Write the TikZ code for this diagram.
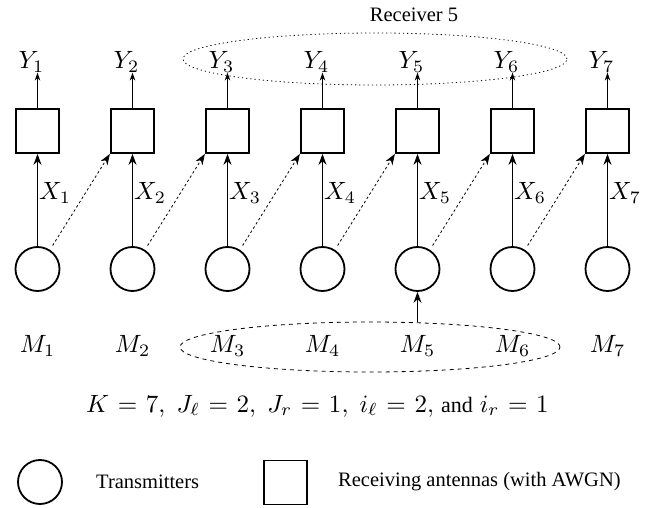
\documentclass[tikz,border=0pt]{standalone}
\usepackage{graphicx}
\usepackage[no-math]{fontspec}
\setmainfont{Liberation Serif}
\usetikzlibrary{arrows.meta,shapes.geometric,calc}
\newcommand\biglab[1]{\scalebox{2.5}{#1}}

\begin{document}
\begin{tikzpicture}[x=1pt,y=-1pt,
  rxbox/.style={draw,line width=1.8pt,minimum width=43.5pt,minimum height=44pt,inner sep=0pt},
  txcirc/.style={draw,circle,line width=1.8pt,minimum size=44pt,inner sep=0pt},
  lab/.style={inner sep=0pt},
  txt/.style={font=\fontsize{20.5}{24}\selectfont,inner sep=0pt},
  feed/.style={line width=0.8pt,-{Stealth[length=11pt,width=8pt]}},
  outarr/.style={line width=0.8pt,-{Stealth[length=8pt,width=5.5pt]}},
  cross/.style={line width=0.8pt,dash pattern=on 2.5pt off 2.5pt,-{Stealth[length=11pt,width=8pt]}},
  group/.style={draw,ellipse,inner sep=0pt,line width=0.8pt}
]
\useasboundingbox (0,0) rectangle (654,508);

% receivers, transmitters and their labels
\foreach \k in {1,...,7} {
  \pgfmathsetmacro\xx{37.5+95*(\k-1)}
  \node[rxbox] (b\k) at (\xx,131) {};
  \node[txcirc] (c\k) at (\xx,269) {};
  \node[lab] (y\k) at (\xx-6,62) {\biglab{$Y_{\k}$}};
  \node[lab,anchor=west] (x\k) at (\xx+1.5,193) {\biglab{$X_{\k}$}};
  \node[lab] (m\k) at (\xx,346) {\biglab{$M_{\k}$}};
  \draw[outarr] (b\k.north) -- (b\k.north |- y\k.south);
  \draw[feed] (c\k.north) -- (b\k.south);
}

% interference from each transmitter to the next receiver
\foreach \k [evaluate=\k as \n using int(\k+1)] in {1,...,6}
  \draw[cross,shorten <=5pt] (c\k.57) -- (b\n.south west);

% receiver 5 output group
\node[group,dash pattern=on 1.2pt off 3pt,minimum width=384pt,minimum height=52pt] (rcv) at (375,59) {};
\node[txt] (rcvlab) at (414,15) {Receiver 5};

% messages known at transmitter 5
\node[group,dash pattern=on 4pt off 4pt,minimum width=380pt,minimum height=50pt] (msg) at (370,347) {};
\draw[line width=1.2pt,-{Stealth[length=11pt,width=8pt]}] (msg.north -| c5) -- (c5.south);

% parameters
\node[lab,anchor=west] (eq) at (86,406) {\biglab{\hbox to 185pt{$K=7,\ J_\ell=2,\ J_r=1,\ i_\ell=2,$ {\fontsize{8.8}{10}\selectfont and} $i_r=1$}}};

% legend
\node[txcirc] (lc) at (40,482) {};
\node[txt,anchor=west] (lct) at (96,482) {Transmitters};
\node[rxbox] (ls) at (285.5,482.5) {};
\node[txt,anchor=west] (lst) at (338,482) {Receiving antennas (with AWGN)};
\end{tikzpicture}
\end{document}
